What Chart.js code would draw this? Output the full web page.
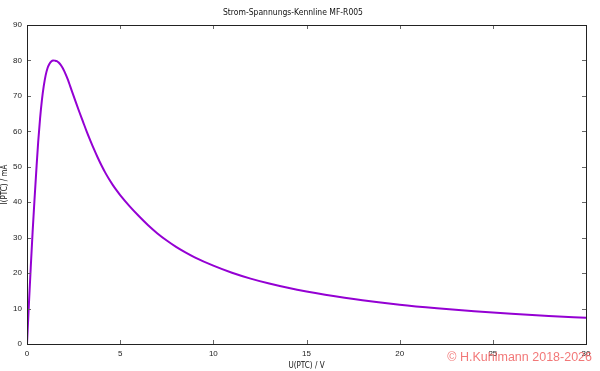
<!DOCTYPE html>
<html><head><meta charset="utf-8">
<script src="https://cdn.jsdelivr.net/npm/chart.js@4/dist/chart.umd.min.js"></script>
<style>html,body{margin:0;padding:0;background:#fff}canvas{display:block}</style>
</head><body>
<canvas id="c" width="600" height="371"></canvas>
<script>
const titleText = "Strom-Spannungs-Kennline MF-R005";
const xAxisLabel = "U(PTC) / V";
const yAxisLabel = "I(PTC) / mA";
const watermark = "\u00A9 H.Kuhlmann 2018-2026";
const voltage = [0, 0.1, 0.2, 0.3, 0.4, 0.5, 0.6, 0.7, 0.8, 0.9, 1.0, 1.1, 1.2, 1.3, 1.4, 1.5, 1.6, 1.7, 1.8, 1.9, 2.0, 2.1, 2.2, 2.3, 2.4, 2.6, 2.8, 3.0, 3.2, 3.4, 3.6, 3.8, 4.0, 4.2, 4.4, 4.6, 4.8, 5.0, 5.5, 6.0, 6.5, 7, 7.5, 8, 8.5, 9, 10, 11, 12, 13, 14, 15, 16, 18, 20, 22, 24, 26, 28, 30];
const current = [0, 11, 21.5, 31.5, 40.5, 49, 57, 63.5, 68.8, 72.8, 75.8, 77.8, 79.0, 79.7, 80.0, 79.95, 79.8, 79.4, 78.8, 78.0, 77.0, 75.8, 74.5, 73.0, 71.5, 68.5, 65.6, 62.8, 60.0, 57.4, 54.9, 52.55, 50.35, 48.35, 46.55, 44.9, 43.4, 42.0, 38.9, 36.1, 33.5, 31.2, 29.2, 27.4, 25.85, 24.45, 22.1, 20.1, 18.45, 17.05, 15.85, 14.8, 13.9, 12.35, 11.1, 10.1, 9.25, 8.55, 7.93, 7.38];
const xTicks = [0, 5, 10, 15, 20, 25, 30];
const yTicks = [0, 10, 20, 30, 40, 50, 60, 70, 80, 90];

const fontFam = "'Liberation Sans', Arial, sans-serif";
const narrowFam = "'Liberation Sans Narrow', 'DejaVu Sans Condensed', sans-serif";
const frame = {
  id: 'frame',
  afterDraw(chart) {
    const {ctx, chartArea: a, scales: {x, y}} = chart;
    ctx.save();
    ctx.strokeStyle = '#666';
    ctx.lineWidth = 1;
    const L = 4;
    ctx.beginPath();
    xTicks.forEach(v => {
      const px = Math.round(x.getPixelForValue(v)) + 0.5;
      ctx.moveTo(px, a.bottom); ctx.lineTo(px, a.bottom - L);
      ctx.moveTo(px, a.top); ctx.lineTo(px, a.top + L);
    });
    yTicks.forEach(v => {
      const py = Math.round(y.getPixelForValue(v)) + 0.5;
      ctx.moveTo(a.left, py); ctx.lineTo(a.left + L, py);
      ctx.moveTo(a.right, py); ctx.lineTo(a.right - L, py);
    });
    ctx.stroke();
    ctx.strokeStyle = '#222';
    ctx.strokeRect(Math.round(a.left) + 0.5, Math.round(a.top) + 0.5, Math.round(a.right - a.left), Math.round(a.bottom - a.top));
    ctx.fillStyle = 'rgba(240,96,96,0.85)';
    ctx.font = "12.5px " + fontFam;
    ctx.textAlign = 'right';
    ctx.textBaseline = 'middle';
    ctx.fillText(watermark, 592, 358);
    ctx.restore();
  }
};

new Chart(document.getElementById('c'), {
  type: 'line',
  data: {
    datasets: [{
      data: voltage.map((v, i) => ({x: v, y: current[i]})),
      borderColor: '#9400D3',
      borderWidth: 2,
      pointRadius: 0,
      cubicInterpolationMode: 'monotone',
      fill: false
    }]
  },
  options: {
    responsive: false,
    animation: false,
    layout: {padding: {top: 0, right: 14, left: 0, bottom: 0}},
    plugins: {
      legend: {display: false},
      tooltip: {enabled: false},
      title: {
        display: true, text: titleText, color: '#111',
        font: {family: narrowFam, size: 8.5, weight: 'normal'},
        padding: {top: 8, bottom: 6.8}
      }
    },
    scales: {
      x: {
        type: 'linear', min: 0, max: 30,
        afterBuildTicks: s => { s.ticks = xTicks.map(v => ({value: v})); },
        afterFit: s => { s.height = 27; },
        grid: {display: false, drawTicks: false},
        border: {display: false},
        ticks: {color: '#222', padding: 5, maxRotation: 0, font: {family: fontFam, size: 8}},
        title: {display: true, text: xAxisLabel, color: '#111', padding: {top: 0, bottom: 0}, font: {family: narrowFam, size: 8}}
      },
      y: {
        type: 'linear', min: 0, max: 90,
        afterBuildTicks: s => { s.ticks = yTicks.map(v => ({value: v})); },
        afterFit: s => { s.width = 27; },
        grid: {display: false, drawTicks: false},
        border: {display: false},
        ticks: {color: '#222', padding: 5, font: {family: fontFam, size: 8}},
        title: {display: true, text: yAxisLabel, color: '#111', padding: {top: 0, bottom: 0}, font: {family: narrowFam, size: 8}}
      }
    }
  },
  plugins: [frame]
});
</script>
</body></html>
